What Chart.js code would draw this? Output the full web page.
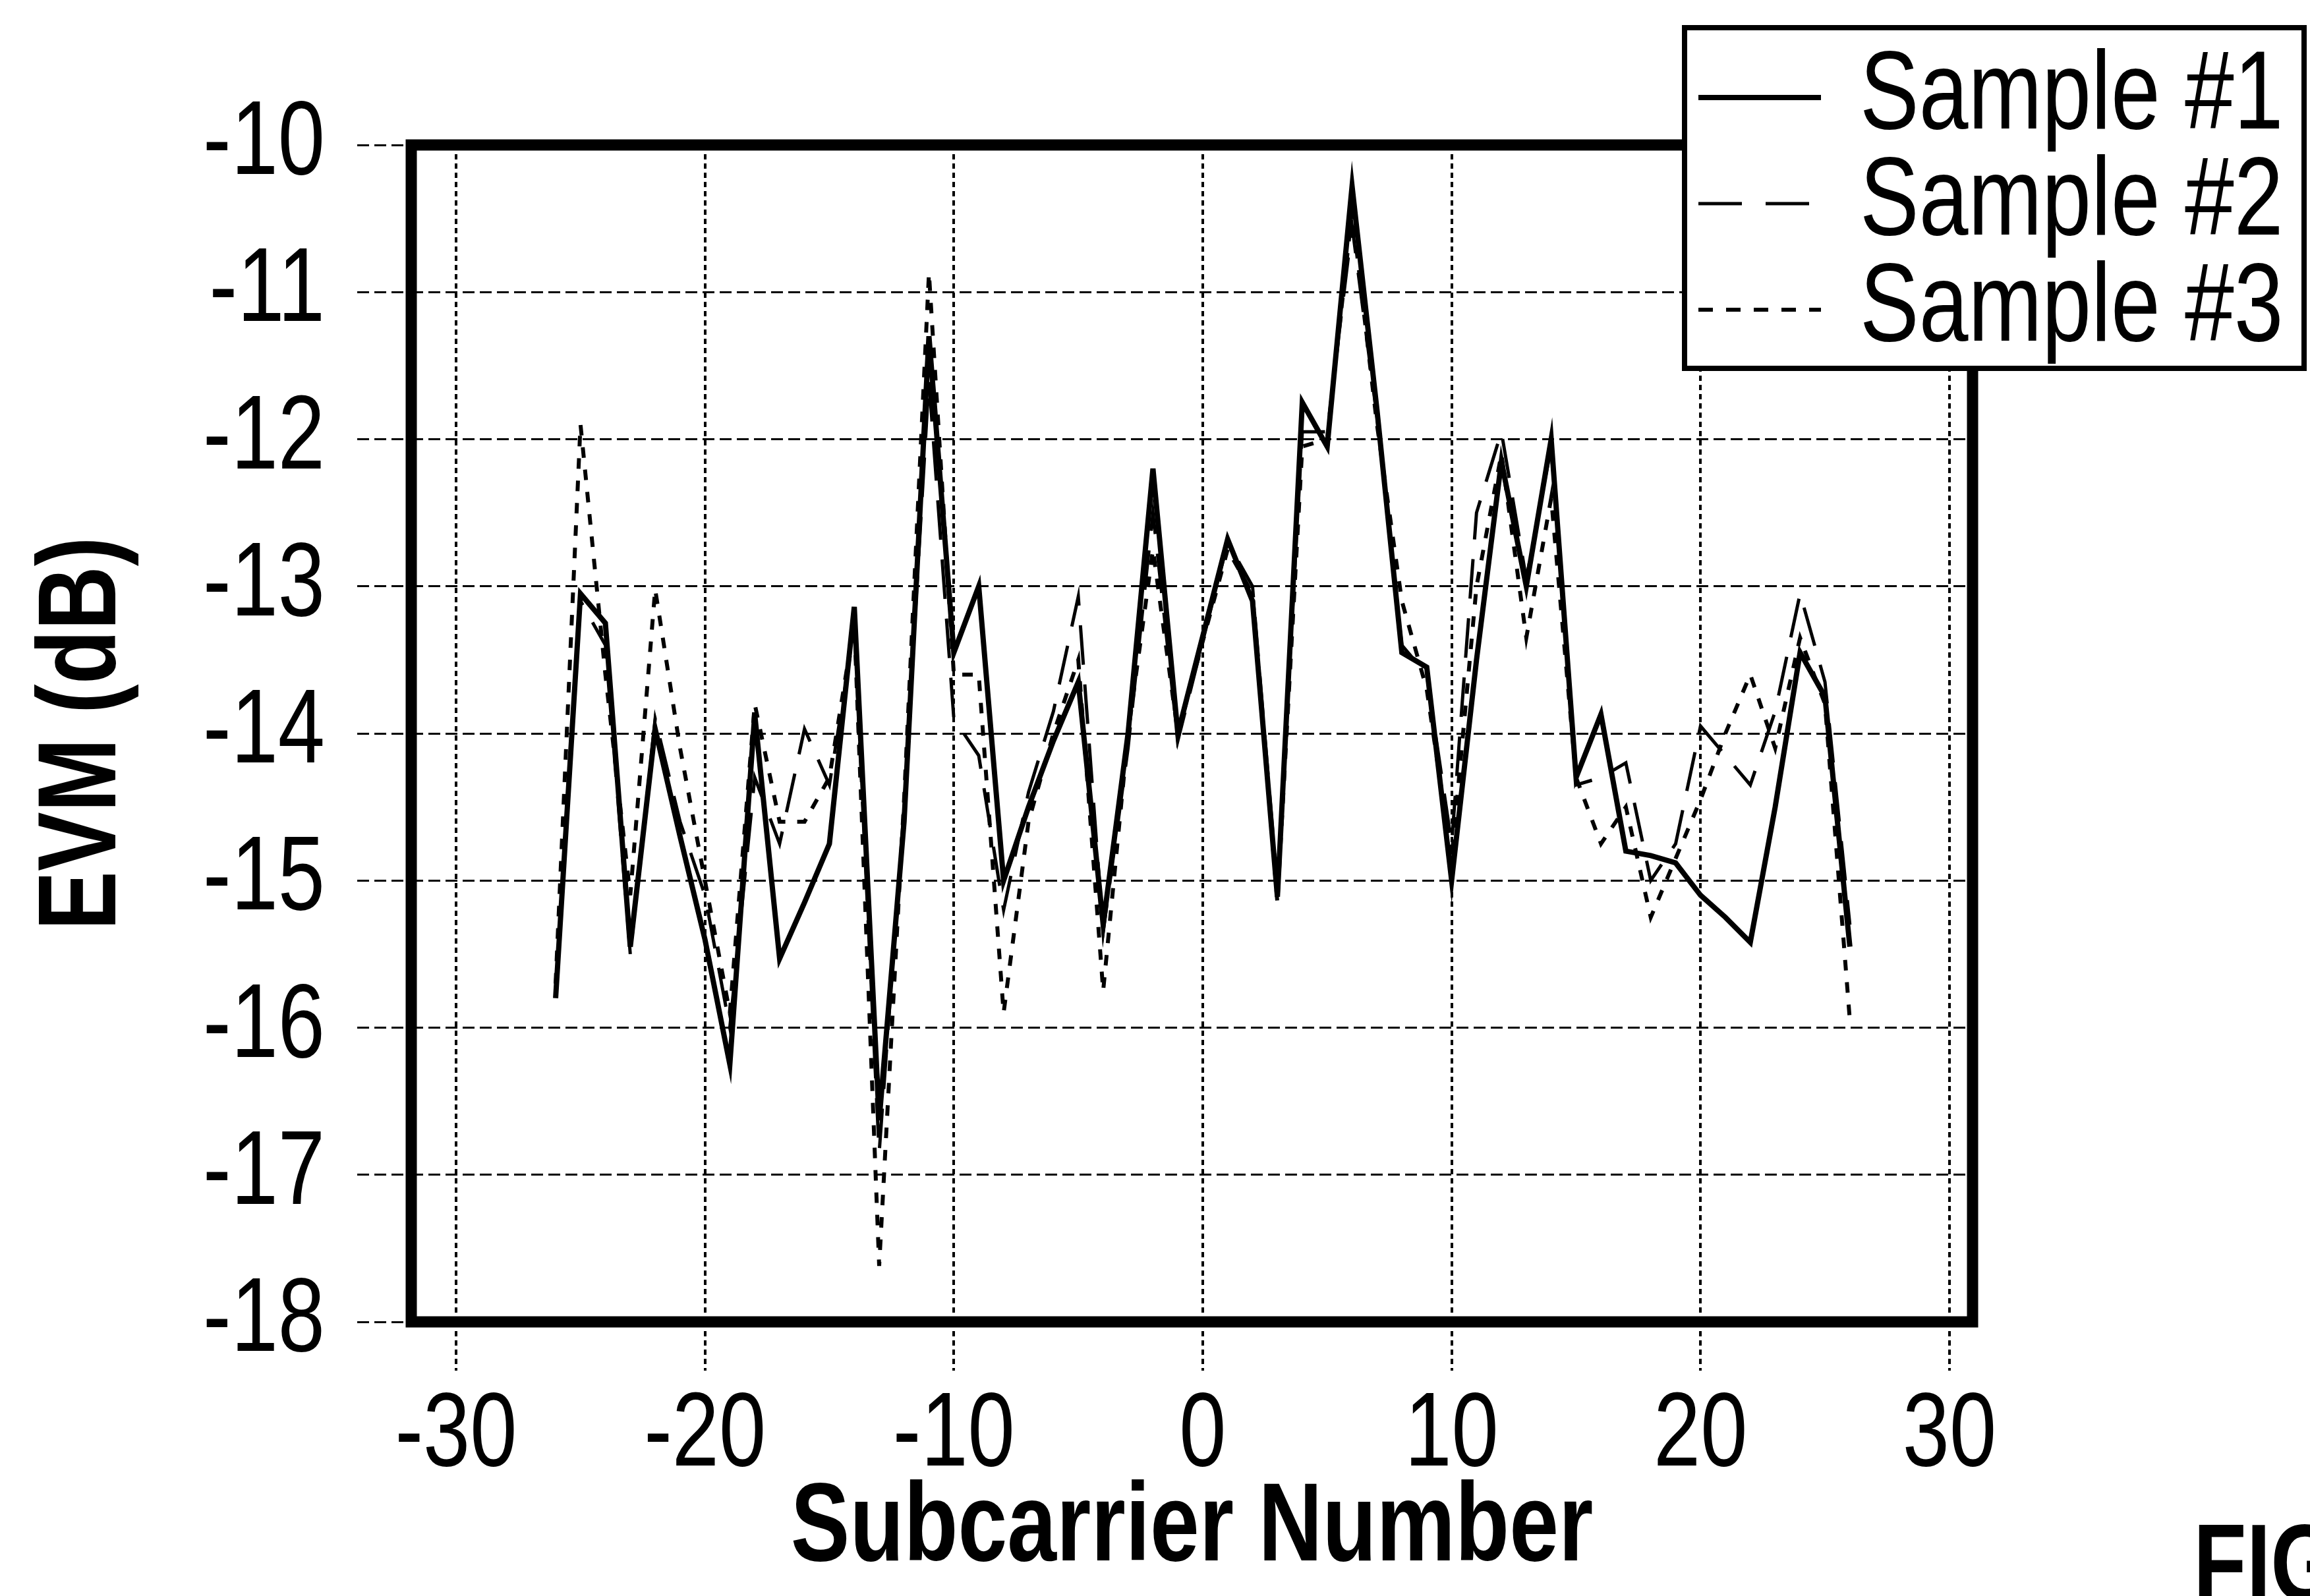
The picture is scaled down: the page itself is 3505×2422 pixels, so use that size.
<!DOCTYPE html>
<html>
<head>
<meta charset="utf-8">
<script src="https://cdn.jsdelivr.net/npm/chart.js@4.4.1/dist/chart.umd.min.js"></script>
<style>
  html, body { margin: 0; padding: 0; background: #fff; }
  canvas { display: block; }
</style>
</head>
<body>
<canvas id="evm" width="3505" height="2422" style="width:3505px;height:2422px"></canvas>
<script>
// Subcarrier indices (DC subcarrier 0 is not used)
const subcarriers = [
  -26, -25, -24, -23, -22, -21, -20, -19, -18, -17, -16, -15, -14,
  -13, -12, -11, -10, -9, -8, -7, -6, -5, -4, -3, -2, -1,
  1, 2, 3, 4, 5, 6, 7, 8, 9, 10, 11, 12, 13,
  14, 15, 16, 17, 18, 19, 20, 21, 22, 23, 24, 25, 26
];

// EVM per subcarrier, dB
const sample1 = [
  -15.80, -13.05, -13.25, -15.45, -13.97, -14.70, -15.40, -16.25, -13.87, -15.53, -15.15, -14.75, -13.14,
  -16.63, -14.60, -11.30, -13.45, -13.00, -15.00, -14.50, -14.05, -13.65, -15.30, -14.00, -12.20, -14.00,
  -12.68, -13.10, -15.11, -11.75, -12.05, -10.28, -11.80, -13.45, -13.55, -15.00, -13.50, -12.15, -13.00,
  -12.00, -14.30, -13.87, -14.80, -14.83, -14.88, -15.10, -15.25, -15.42, -14.50, -13.45, -13.75, -15.45
];
const sample2 = [
  -15.75, -13.10, -13.40, -15.50, -13.90, -14.60, -15.10, -16.00, -14.30, -14.75, -13.97, -14.35, -13.30,
  -16.85, -14.50, -11.60, -13.90, -14.15, -15.20, -14.40, -13.85, -13.07, -15.35, -14.10, -12.50, -14.05,
  -12.70, -13.00, -15.05, -11.95, -11.95, -10.55, -11.85, -13.40, -13.60, -14.75, -12.50, -11.95, -12.95,
  -12.05, -14.35, -14.30, -14.20, -15.00, -14.75, -13.95, -14.15, -14.35, -13.85, -13.05, -13.65, -15.30
];
const sample3 = [
  -15.70, -11.90, -13.60, -15.10, -13.02, -14.10, -15.00, -15.90, -13.80, -14.60, -14.60, -14.30, -13.25,
  -17.62, -14.45, -10.87, -13.60, -13.60, -15.90, -14.60, -14.00, -13.50, -15.75, -14.00, -12.75, -14.00,
  -12.75, -13.05, -15.15, -12.05, -12.00, -10.45, -11.90, -13.10, -13.70, -14.85, -13.00, -12.10, -13.35,
  -12.40, -14.30, -14.75, -14.50, -15.25, -14.85, -14.45, -14.00, -13.60, -14.10, -13.35, -13.80, -15.95
];

const seriesNames = ['Sample #1', 'Sample #2', 'Sample #3'];
const xTickValues = [-30, -20, -10, 0, 10, 20, 30];
const yTickValues = [-18, -17, -16, -15, -14, -13, -12, -11, -10];
const xTitle = 'Subcarrier Number';
const yTitle = 'EVM (dB)';
const figureLabel = 'FIG';

const FAMILY = '"Liberation Sans", Arial, sans-serif';
const CONDENSE = 0.8;

function toPoints(values) {
  return subcarriers.map((x, i) => ({ x: x, y: values[i] }));
}

// Condensed lettering: every string is squeezed horizontally about its anchor point
const condensePlugin = {
  id: 'condense',
  beforeInit(chart) {
    const ctx = chart.ctx;
    const rawFillText = ctx.fillText;
    ctx.fillText = function (text, x, y) {
      this.save();
      this.translate(x, y);
      this.scale(CONDENSE, 1);
      rawFillText.call(this, text, 0, 0);
      this.restore();
    };
  }
};

// Heavy frame around the plotting area
const framePlugin = {
  id: 'frame',
  afterDatasetsDraw(chart) {
    const { ctx, chartArea: a } = chart;
    ctx.save();
    ctx.strokeStyle = '#000';
    ctx.lineWidth = 17;
    ctx.setLineDash([]);
    ctx.strokeRect(a.left, a.top, a.right - a.left, a.bottom - a.top);
    ctx.restore();
  }
};

// Boxed legend in the upper right corner, overlapping the frame
const boxLegendPlugin = {
  id: 'boxLegend',
  afterDraw(chart) {
    const { ctx } = chart;
    const box = { left: 2556, top: 42, right: 3496, bottom: 559 };
    ctx.save();
    ctx.fillStyle = '#fff';
    ctx.fillRect(box.left, box.top, box.right - box.left, box.bottom - box.top);
    ctx.strokeStyle = '#000';
    ctx.lineWidth = 8;
    ctx.setLineDash([]);
    ctx.strokeRect(box.left, box.top, box.right - box.left, box.bottom - box.top);

    ctx.font = '168px ' + FAMILY;
    ctx.fillStyle = '#000';
    ctx.textAlign = 'left';
    ctx.textBaseline = 'alphabetic';
    const baseFirst = 195, rowStep = 161;
    chart.data.datasets.forEach((ds, i) => {
      const base = baseFirst + i * rowStep;
      const ly = base - 47;
      ctx.beginPath();
      ctx.lineWidth = ds.borderWidth;
      ctx.setLineDash(ds.legendDash || []);
      ctx.moveTo(2577, ly);
      ctx.lineTo(2763, ly);
      ctx.stroke();
      ctx.setLineDash([]);
      ctx.fillText(ds.label, 2822, base);
    });
    ctx.restore();
  }
};

// Figure caption at the lower right edge
const captionPlugin = {
  id: 'caption',
  afterDraw(chart) {
    const { ctx } = chart;
    ctx.save();
    ctx.font = 'bold 165px ' + FAMILY;
    ctx.fillStyle = '#000';
    ctx.textAlign = 'left';
    ctx.textBaseline = 'alphabetic';
    ctx.fillText(figureLabel, 3328, 2428);
    ctx.restore();
  }
};

const tickFont = { family: FAMILY, size: 160, lineHeight: 1 };
const titleFont = { family: FAMILY, size: 168, weight: 'bold', lineHeight: 1 };

new Chart(document.getElementById('evm'), {
  type: 'line',
  data: {
    datasets: [
      {
        label: seriesNames[0], data: toPoints(sample1),
        borderColor: '#000', borderWidth: 8, borderDash: [],
        legendDash: [], pointRadius: 0, tension: 0, fill: false
      },
      {
        label: seriesNames[1], data: toPoints(sample2),
        borderColor: '#000', borderWidth: 5, borderDash: [60, 30],
        legendDash: [66, 36], pointRadius: 0, tension: 0, fill: false
      },
      {
        label: seriesNames[2], data: toPoints(sample3),
        borderColor: '#000', borderWidth: 6, borderDash: [16, 18],
        legendDash: [22, 20], pointRadius: 0, tension: 0, fill: false
      }
    ]
  },
  options: {
    responsive: false,
    animation: false,
    devicePixelRatio: 1,
    layout: { padding: { top: 220, right: 512, left: 0, bottom: 0 } },
    plugins: {
      legend: { display: false },
      tooltip: { enabled: false }
    },
    scales: {
      x: {
        type: 'linear',
        min: -31.8,
        max: 30.93,
        afterBuildTicks(scale) { scale.ticks = xTickValues.map(v => ({ value: v })); },
        afterFit(scale) { scale.height = 416; },
        ticks: {
          font: tickFont, color: '#000', padding: 20,
          maxRotation: 0, minRotation: 0, autoSkip: false,
          callback: v => String(v)
        },
        grid: {
          color: '#000', lineWidth: 4, tickLength: 74, tickWidth: 4,
          tickColor: '#000', tickBorderDash: [8, 6]
        },
        border: { display: false, dash: [8, 6] },
        title: {
          display: true, text: xTitle, color: '#000', font: titleFont,
          padding: { top: 0, bottom: 16 }
        }
      },
      y: {
        type: 'linear',
        min: -18,
        max: -10,
        afterBuildTicks(scale) { scale.ticks = yTickValues.map(v => ({ value: v })); },
        afterFit(scale) { scale.width = 624; },
        ticks: {
          font: tickFont, color: '#000', padding: 49,
          autoSkip: false, callback: v => String(v)
        },
        grid: {
          color: '#000', lineWidth: 3, tickLength: 82, tickWidth: 3,
          tickColor: '#000', tickBorderDash: [18, 8]
        },
        border: { display: false, dash: [18, 8] },
        title: {
          display: true, text: yTitle, color: '#000', font: titleFont,
          padding: { top: 45, bottom: 0 }
        }
      }
    }
  },
  plugins: [condensePlugin, framePlugin, boxLegendPlugin, captionPlugin]
});
</script>
</body>
</html>
